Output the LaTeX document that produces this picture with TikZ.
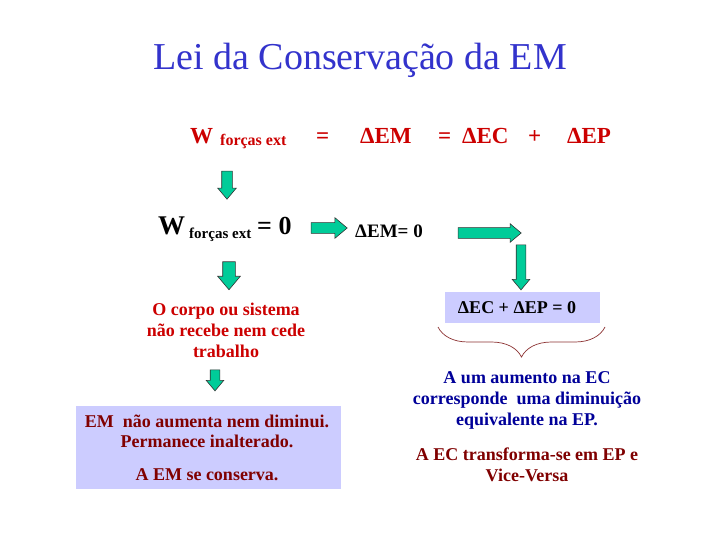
\documentclass[tikz,border=0pt]{standalone}
\usepackage{fontspec}
\setmainfont{Liberation Serif}
\usetikzlibrary{shapes.arrows,decorations.pathreplacing,positioning}
\definecolor{titulo}{RGB}{51,51,204}
\definecolor{vermelho}{RGB}{204,0,0}
\definecolor{vinho}{RGB}{128,0,0}
\definecolor{azul}{RGB}{0,0,153}
\definecolor{lilas}{RGB}{204,204,255}
\definecolor{verde}{RGB}{0,204,153}
\definecolor{chave}{RGB}{140,50,50}
\tikzset{
  seta/.style={
    single arrow,
    draw=black!80,
    fill=verde,
    line width=0.6pt,
    minimum width=1pt,
    single arrow tip angle=80
  },
  eq/.style={
    anchor=base west,
    inner sep=0pt,
    font=\bfseries\fontsize{23}{26}\selectfont
  },
  sub/.style={
    anchor=base west,
    inner sep=0pt,
    font=\bfseries\fontsize{16}{18}\selectfont
  },
  linha/.style={
    anchor=base,
    inner sep=0pt,
    font=\bfseries\fontsize{18}{21}\selectfont
  },
  caixa/.style={
    fill=lilas,
    inner sep=0pt
  }
}
\begin{document}
\begin{tikzpicture}[x=1pt,y=-1pt]
    \useasboundingbox[fill=white] (0,0) rectangle (720,540);
    % titulo
    \node[anchor=base, inner sep=0pt, text=titulo, font=\fontsize{38}{44}\selectfont] (tit) at (360,70) {Lei da Conservação da EM};
    % primeira linha
    \node[eq, text=vermelho] (W1) at (190,144) {W};
    \node[sub, text=vermelho] (W1s) at (220,146) {forças ext};
    \node[eq, text=vermelho] (ig1) at (316,144) {=};
    \node[eq, text=vermelho] (dEM) at (360,144) {ΔEM};
    \node[eq, text=vermelho] (ig2) at (438,144) {=};
    \node[eq, text=vermelho] (dEC) at (462,144) {ΔEC};
    \node[eq, text=vermelho] (mais) at (528,144) {+};
    \node[eq, text=vermelho] (dEP) at (567,144) {ΔEP};
    % segunda linha
    \node[eq, font=\bfseries\fontsize{27}{30}\selectfont] (W2) at (158,235) {W};
    \node[sub, font=\bfseries\fontsize{15}{18}\selectfont] (W2s) at (189,239) {forças ext};
    \node[eq, font=\bfseries\fontsize{26}{30}\selectfont] (zero1) at (257,235) {= 0};
    \node[eq, font=\bfseries\fontsize{19}{22}\selectfont] (dEM0) at (355,237) {ΔEM= 0};
    % setas
    \node[seta, inner sep=5pt, single arrow head extend=4pt, minimum height=28pt, shape border rotate=270] (s1) at (227,182) {};
    \node[seta, inner sep=5pt, single arrow head extend=5pt, minimum height=36pt] (s2) at (326,228) {};
    \node[seta, inner sep=5pt, single arrow head extend=4pt, minimum height=63pt] (s3) at (486.5,233) {};
    \node[seta, inner sep=4.5pt, single arrow head extend=4pt, minimum height=45pt, shape border rotate=270] (s4) at (521,264.5) {};
    \node[seta, inner sep=6pt, single arrow head extend=5pt, minimum height=28pt, shape border rotate=270] (s5) at (229,272) {};
    \node[seta, inner sep=4.5pt, single arrow head extend=4pt, minimum height=21pt, shape border rotate=270] (s6) at (215,377.5) {};
    % lado esquerdo
    \node[linha, text=vermelho] (corpo1) at (226,315) {O corpo ou sistema};
    \node[linha, text=vermelho] (corpo2) at (226,336) {não recebe nem cede};
    \node[linha, text=vermelho] (corpo3) at (226,357) {trabalho};
    \node[caixa, minimum width=265pt, minimum height=83pt] (cxEM) at (208.5,447.5) {};
    \node[linha, text=vinho] (em1) at (207,427) {EM\ \ não aumenta nem diminui.};
    \node[linha, text=vinho] (em2) at (207,447) {Permanece inalterado.};
    \node[linha, text=vinho] (em3) at (207,480) {A EM se conserva.};
    % lado direito
    \node[caixa, minimum width=155pt, minimum height=31pt] (cxEC) at (522.5,307.5) {};
    \node[linha] (soma) at (517,313) {ΔEC + ΔEP = 0};
    \draw[chave, line width=0.7pt, decorate, decoration={brace, mirror, amplitude=30pt}] (438,327) -- (605,327);
    \node[linha, text=azul] (aum1) at (527,383) {A um aumento na EC};
    \node[linha, text=azul] (aum2) at (527,404) {corresponde\ \ uma diminuição};
    \node[linha, text=azul] (aum3) at (527,425) {equivalente na EP.};
    \node[linha, text=vinho] (tr1) at (527,460) {A EC transforma-se em EP e};
    \node[linha, text=vinho] (tr2) at (527,481) {Vice-Versa};
\end{tikzpicture}
\end{document}
